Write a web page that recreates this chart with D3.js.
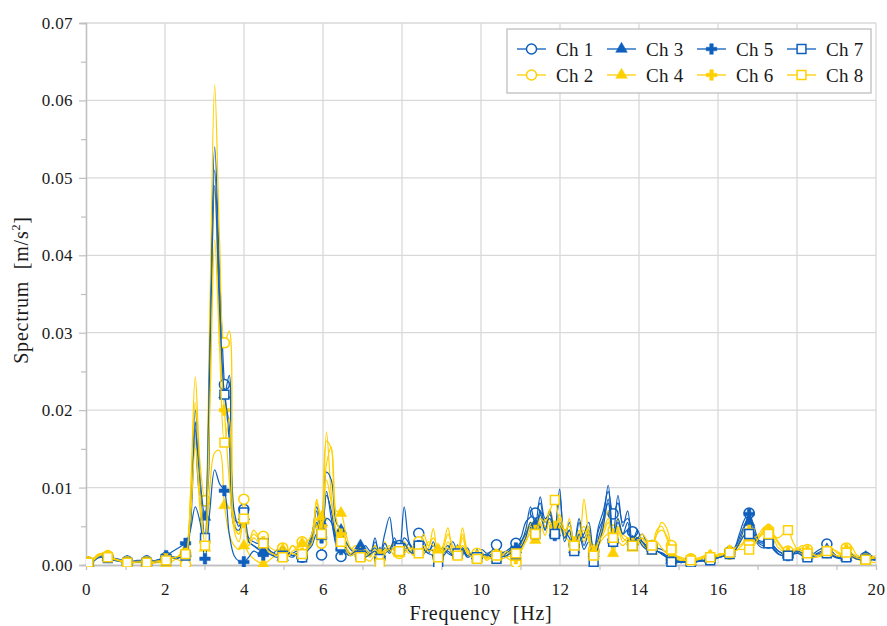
<!DOCTYPE html>
<html>
<head>
<meta charset="utf-8">
<script src="https://cdn.jsdelivr.net/npm/d3@7"></script>
<style>
  body { margin: 0; background: #fff; }
  svg text { font-family: "Liberation Serif", "DejaVu Serif", serif; fill: #1a1a1a; white-space: pre; }
</style>
</head>
<body>
<svg id="chart" width="887" height="626"></svg>
<script>
// Spectrum amplitudes in units of 1e-4 m/s², one value per frequency bin.
const AMP_UNIT = 1e-4;
const FREQ_START = 0.06;   // Hz, first bin
const FREQ_STEP = 0.123;   // Hz, bin spacing
const MARKER_EVERY = 4;    // a marker on every 4th bin

const xTickValues = [0, 2, 4, 6, 8, 10, 12, 14, 16, 18, 20];
const yTickValues = [0, 0.01, 0.02, 0.03, 0.04, 0.05, 0.06, 0.07];
const channelNames = ["Ch 1", "Ch 2", "Ch 3", "Ch 4", "Ch 5", "Ch 6", "Ch 7", "Ch 8"];

const ch1 = [
  3, 6, 12, 14, 11, 9, 8, 6, 5, 5,
  6, 6, 5, 5, 6, 8, 10, 11, 10, 12,
  13, 60, 185, 90, 83, 300, 540, 380, 233, 160,
  60, 55, 72, 35, 30, 28, 35, 22, 15, 20,
  14, 18, 12, 15, 10, 22, 40, 70, 13, 95,
  60, 25, 11, 20, 14, 18, 12, 20, 14, 35,
  8, 22, 15, 30, 25, 18, 28, 20, 41, 22,
  15, 30, 9, 18, 25, 14, 16, 22, 12, 15,
  12, 20, 15, 18, 26, 14, 10, 22, 28, 35,
  55, 62, 67, 80, 45, 70, 48, 90, 35, 55,
  28, 60, 35, 45, 18, 50, 70, 95, 66, 80,
  55, 60, 43, 35, 40, 28, 25, 22, 20, 16,
  8, 6, 5, 5, 6, 5, 7, 6, 8, 9,
  12, 14, 17, 22, 40, 58, 67, 45, 30, 28,
  30, 25, 18, 15, 14, 16, 20, 18, 15, 14,
  18, 22, 27, 18, 12, 10, 12, 14, 10, 9,
  10, 12, 9
];
const ch2 = [
  4, 8, 14, 15, 12, 8, 6, 5, 4, 4,
  5, 5, 4, 4, 5, 6, 9, 10, 8, 5,
  1, 90, 243, 130, 83, 330, 620, 420, 287, 302,
  60, 40, 85, 30, 45, 38, 37, 25, 20, 18,
  22, 16, 25, 20, 30, 25, 35, 85, 28, 172,
  90, 40, 26, 30, 20, 25, 15, 10, 18, 25,
  12, 30, 18, 22, 15, 25, 20, 14, 30, 18,
  22, 47, 12, 25, 48, 20, 15, 40, 18, 12,
  15, 10, 14, 8, 12, 18, 10, 6, 3, 22,
  40, 55, 50, 65, 58, 72, 45, 60, 40, 30,
  25, 40, 50, 35, 20, 30, 55, 70, 45, 60,
  40, 35, 30, 25, 35, 20, 22, 40, 55, 48,
  25, 12, 10, 8, 8, 6, 8, 12, 10, 10,
  15, 12, 14, 18, 22, 28, 30, 28, 35, 45,
  45, 40, 30, 22, 18, 20, 22, 25, 20, 15,
  12, 14, 16, 20, 18, 15, 22, 16, 12, 10,
  8, 10, 12
];
const ch3 = [
  2, 5, 10, 12, 10, 7, 6, 5, 4, 4,
  5, 5, 4, 4, 5, 6, 8, 9, 8, 10,
  15, 70, 200, 110, 62, 280, 510, 350, 220, 245,
  50, 45, 63, 30, 25, 20, 18, 15, 12, 14,
  10, 12, 15, 18, 12, 20, 35, 75, 55, 120,
  110, 55, 45, 30, 20, 15, 25, 18, 12, 30,
  15, 40, 62, 25, 18, 35, 28, 15, 20, 30,
  18, 25, 15, 12, 20, 30, 18, 15, 22, 10,
  12, 15, 10, 14, 12, 15, 18, 22, 20, 28,
  45, 75, 52, 88, 60, 65, 42, 98, 30, 45,
  20, 55, 25, 40, 15, 35, 60, 103, 37, 90,
  50, 70, 30, 45, 30, 25, 22, 18, 16, 12,
  6, 5, 4, 5, 4, 5, 6, 5, 7, 8,
  10, 12, 15, 20, 35, 50, 55, 40, 28, 25,
  28, 22, 15, 12, 13, 14, 16, 14, 12, 12,
  15, 18, 20, 15, 10, 9, 10, 12, 9, 8,
  10, 9, 8
];
const ch4 = [
  2, 6, 12, 14, 11, 8, 6, 4, 3, 3,
  3, 3, 2, 2, 3, 3, 2, 4, 8, 15,
  20, 75, 160, 70, 22, 100, 145, 148, 77, 40,
  25, 20, 25, 15, 8, 4, 1, 5, 10, 15,
  20, 18, 25, 22, 28, 30, 40, 80, 62, 160,
  150, 70, 67, 40, 22, 18, 15, 20, 12, 25,
  10, 18, 22, 28, 15, 30, 20, 12, 18, 40,
  25, 35, 20, 15, 30, 18, 12, 35, 15, 10,
  8, 12, 6, 10, 8, 12, 15, 18, 10, 25,
  30, 45, 32, 55, 38, 60, 45, 50, 35, 60,
  22, 45, 30, 50, 12, 25, 35, 40, 15, 30,
  25, 30, 22, 35, 28, 20, 18, 30, 22, 15,
  10, 8, 6, 6, 5, 6, 8, 10, 12, 12,
  14, 15, 18, 22, 25, 30, 35, 30, 38, 42,
  45, 35, 22, 18, 15, 16, 18, 14, 12, 10,
  10, 12, 15, 12, 10, 12, 15, 10, 8, 6,
  5, 4, 3
];
const ch5 = [
  3, 5, 10, 12, 10, 8, 6, 5, 4, 4,
  5, 5, 5, 5, 6, 8, 12, 16, 20, 24,
  28, 45, 75, 55, 8, 70, 123, 105, 96, 40,
  12, 5, 4, 10, 18, 15, 13, 20, 12, 10,
  15, 12, 10, 14, 12, 18, 25, 40, 35, 60,
  55, 30, 20, 15, 12, 20, 15, 25, 18, 22,
  10, 28, 18, 35, 20, 75, 30, 18, 25, 15,
  20, 18, 12, 22, 15, 12, 14, 18, 10, 12,
  10, 14, 12, 18, 12, 10, 15, 20, 22, 30,
  40, 50, 45, 70, 55, 60, 38, 50, 45, 35,
  25, 30, 40, 55, 15, 45, 60, 80, 30, 55,
  40, 45, 30, 35, 25, 20, 22, 18, 15, 10,
  5, 4, 3, 4, 5, 4, 5, 6, 8, 10,
  10, 12, 15, 18, 30, 48, 66, 50, 32, 30,
  28, 24, 18, 14, 12, 15, 18, 15, 12, 12,
  14, 16, 18, 14, 10, 9, 11, 12, 10, 9,
  10, 8, 7
];
const ch6 = [
  3, 7, 13, 14, 12, 9, 7, 5, 4, 4,
  4, 5, 4, 4, 5, 6, 8, 9, 10, 12,
  15, 85, 210, 100, 30, 250, 485, 300, 200, 110,
  50, 40, 55, 30, 40, 35, 30, 20, 15, 12,
  15, 10, 18, 20, 15, 22, 30, 84, 50, 130,
  152, 60, 40, 25, 15, 20, 12, 15, 10, 20,
  14, 20, 25, 18, 20, 22, 15, 25, 20, 15,
  30, 25, 18, 22, 40, 25, 18, 48, 20, 14,
  12, 15, 10, 12, 14, 10, 18, 12, 8, 20,
  35, 50, 45, 60, 50, 55, 50, 65, 45, 40,
  30, 35, 85, 40, 18, 30, 45, 60, 40, 50,
  35, 30, 28, 30, 40, 32, 25, 45, 50, 35,
  18, 10, 8, 6, 7, 8, 10, 12, 12, 10,
  12, 15, 18, 20, 28, 40, 45, 35, 40, 48,
  46, 38, 28, 20, 16, 18, 20, 22, 18, 14,
  12, 15, 18, 22, 16, 14, 20, 24, 14, 10,
  8, 10, 9
];
const ch7 = [
  2, 5, 9, 10, 9, 7, 5, 4, 3, 3,
  4, 4, 3, 3, 4, 5, 6, 8, 9, 10,
  12, 50, 175, 100, 35, 260, 490, 330, 220, 180,
  70, 50, 68, 30, 25, 22, 28, 20, 16, 12,
  12, 15, 12, 14, 10, 18, 30, 55, 40, 90,
  70, 35, 25, 18, 12, 15, 12, 10, 14, 18,
  8, 15, 20, 30, 22, 28, 18, 15, 25, 20,
  15, 12, 2, 15, 18, 12, 15, 20, 12, 14,
  10, 12, 14, 10, 8, 10, 12, 15, 14, 22,
  35, 55, 40, 65, 45, 70, 40, 55, 35, 45,
  18, 40, 20, 30, 4, 25, 50, 85, 30, 60,
  40, 55, 25, 35, 30, 22, 20, 18, 14, 10,
  4, 4, 3, 4, 3, 4, 5, 5, 6, 8,
  10, 12, 14, 18, 28, 38, 40, 35, 25, 22,
  28, 20, 14, 12, 12, 14, 15, 12, 10, 11,
  12, 14, 15, 12, 9, 8, 10, 11, 8, 7,
  8, 7, 6
];
const ch8 = [
  3, 6, 11, 13, 10, 8, 6, 4, 3, 3,
  4, 4, 3, 3, 4, 5, 6, 8, 10, 12,
  14, 60, 150, 90, 25, 200, 420, 280, 158, 190,
  45, 30, 60, 25, 35, 30, 28, 18, 14, 12,
  10, 12, 15, 12, 14, 20, 28, 60, 40, 110,
  80, 45, 30, 20, 12, 15, 10, 8, 5, 12,
  2, 15, 20, 12, 18, 15, 22, 20, 15, 25,
  18, 20, 10, 15, 22, 15, 12, 25, 15, 10,
  8, 12, 8, 10, 12, 8, 10, 12, 15, 18,
  30, 40, 40, 60, 55, 70, 84, 55, 45, 50,
  25, 35, 45, 30, 12, 30, 40, 55, 35, 45,
  30, 35, 25, 30, 35, 28, 25, 40, 45, 38,
  20, 12, 8, 6, 6, 7, 8, 10, 10, 12,
  14, 15, 16, 18, 20, 20, 20, 25, 35, 40,
  40, 38, 35, 40, 45, 30, 20, 18, 15, 14,
  12, 14, 18, 15, 12, 14, 16, 13, 10, 8,
  7, 8, 9
];

const seriesValues = [ch1, ch2, ch3, ch4, ch5, ch6, ch7, ch8];

const BLUE = "#0f5fbd";
const YELLOW = "#ffd000";
const FONT = '"Liberation Serif", "DejaVu Serif", serif';
const seriesStyle = [
  { color: BLUE,   shape: "circle" },
  { color: YELLOW, shape: "circle" },
  { color: BLUE,   shape: "triangle" },
  { color: YELLOW, shape: "triangle" },
  { color: BLUE,   shape: "plus" },
  { color: YELLOW, shape: "plus" },
  { color: BLUE,   shape: "square" },
  { color: YELLOW, shape: "square" }
];

const svg = d3.select("#chart");
const plot = { left: 86, right: 876, top: 23, bottom: 565 };

const x = d3.scaleLinear().domain([0, 20]).range([plot.left, plot.right]);
const y = d3.scaleLinear().domain([0, 0.07]).range([plot.bottom, plot.top]);

// Gridlines
const grid = svg.append("g").attr("class", "grid");
grid.selectAll("line.h").data(yTickValues.filter(v => v > 0)).join("line")
  .attr("x1", plot.left).attr("x2", plot.right)
  .attr("y1", d => y(d)).attr("y2", d => y(d))
  .attr("stroke", "#d9d9d9").attr("stroke-width", 1.3);
grid.selectAll("line.v").data(xTickValues.filter(v => v > 0)).join("line")
  .attr("y1", plot.top).attr("y2", plot.bottom)
  .attr("x1", d => x(d)).attr("x2", d => x(d))
  .attr("stroke", "#d9d9d9").attr("stroke-width", 1.3);

// Axes
const xAxis = d3.axisBottom(x).tickValues(xTickValues).tickFormat(d3.format("d")).tickSize(0).tickPadding(18);
const xMinor = d3.axisBottom(x).tickValues(d3.range(1, 20, 2)).tickFormat("").tickSize(5);
const yAxis = d3.axisLeft(y).tickValues(yTickValues).tickFormat(d3.format(".2f")).tickSize(7).tickPadding(6);
const yMinor = d3.axisLeft(y).tickValues(d3.range(0.005, 0.07, 0.01)).tickFormat("").tickSize(5);

function styleAxis(g) {
  g.attr("font-family", FONT).attr("font-size", 17);
  g.select(".domain").attr("stroke", "#bfbfbf").attr("stroke-width", 1.3);
  g.selectAll(".tick line").attr("stroke", "#bfbfbf").attr("stroke-width", 1.2);
  g.selectAll(".tick text").attr("fill", "#1a1a1a").attr("letter-spacing", 0.4);
}
svg.append("g").attr("transform", `translate(0,${plot.bottom})`).call(xMinor).call(styleAxis);
svg.append("g").attr("transform", `translate(0,${plot.bottom})`).call(xAxis).call(styleAxis);
svg.append("g").attr("transform", `translate(${plot.left},0)`).call(yMinor).call(styleAxis);
svg.append("g").attr("transform", `translate(${plot.left},0)`).call(yAxis).call(styleAxis);

// Axis titles
svg.append("text")
  .attr("x", (plot.left + plot.right) / 2).attr("y", 620)
  .attr("text-anchor", "middle").attr("font-size", 20).attr("letter-spacing", 0.8)
  .text("Frequency  [Hz]");
const yTitle = svg.append("text")
  .attr("transform", `translate(28,${(plot.top + plot.bottom) / 2 - 4}) rotate(-90)`)
  .attr("text-anchor", "middle").attr("font-size", 20).attr("letter-spacing", 0.8);
yTitle.append("tspan").text("Spectrum  [m/s");
yTitle.append("tspan").attr("font-size", 12).attr("dy", -8).text("2");
yTitle.append("tspan").attr("dy", 8).text("]");

// Marker shapes
const symbolFor = {
  circle: d3.symbol(d3.symbolCircle, 80),
  triangle: d3.symbol(d3.symbolTriangle, 58),
  plus: d3.symbol(d3.symbolCross, 62),
  square: d3.symbol(d3.symbolSquare, 78)
};
function drawMarker(sel, style) {
  const filled = style.shape === "triangle" || style.shape === "plus";
  sel.attr("d", symbolFor[style.shape]())
    .attr("fill", filled ? style.color : "#fff")
    .attr("stroke", style.color)
    .attr("stroke-width", filled ? 0.5 : 1.5);
}

// Series
svg.append("defs").append("clipPath").attr("id", "plotClip")
  .append("rect").attr("x", plot.left).attr("y", plot.top - 2)
  .attr("width", plot.right - plot.left).attr("height", plot.bottom - plot.top + 4);

const seriesLayer = svg.append("g").attr("clip-path", "url(#plotClip)");
const line = d3.line()
  .x(d => x(d.f)).y(d => y(d.v))
  .curve(d3.curveCatmullRom.alpha(0.5));

seriesValues.forEach((vals, s) => {
  const style = seriesStyle[s];
  const pts = vals.map((v, i) => ({ f: FREQ_START + i * FREQ_STEP, v: v * AMP_UNIT, i }));
  const g = seriesLayer.append("g");
  g.append("path").datum(pts)
    .attr("fill", "none").attr("stroke", style.color)
    .attr("stroke-width", 1.2).attr("d", line);
  g.selectAll("path.mk").data(pts.filter(p => p.i % MARKER_EVERY === 0)).join("path")
    .attr("class", "mk")
    .attr("transform", d => `translate(${x(d.f)},${y(d.v)})`)
    .call(sel => drawMarker(sel, style));
});

// Legend
const legend = svg.append("g");
legend.append("rect").attr("x", 507).attr("y", 29).attr("width", 364).attr("height", 64)
  .attr("fill", "#fff").attr("stroke", "#bfbfbf").attr("stroke-width", 1.3);
channelNames.forEach((name, s) => {
  const col = Math.floor(s / 2), row = s % 2;
  const x0 = 517 + col * 90, yy = 49 + row * 26;
  const style = seriesStyle[s];
  const item = legend.append("g");
  item.append("line").attr("x1", x0).attr("x2", x0 + 29).attr("y1", yy).attr("y2", yy)
    .attr("stroke", style.color).attr("stroke-width", 1.3);
  item.append("path").attr("transform", `translate(${x0 + 14.5},${yy})`)
    .call(sel => drawMarker(sel, style));
  item.append("text").attr("x", x0 + 39).attr("y", yy).attr("dy", "0.35em")
    .attr("font-size", 19).attr("letter-spacing", 0.3).text(name);
});
</script>
</body>
</html>
